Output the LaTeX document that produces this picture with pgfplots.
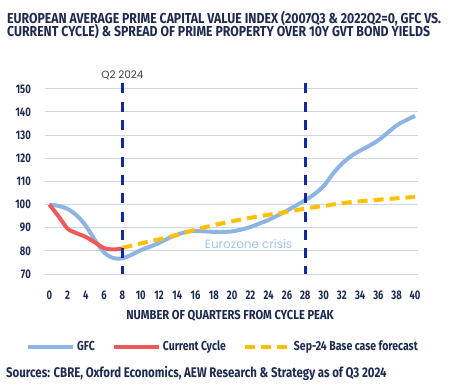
\documentclass[border=0pt]{standalone}
\usepackage{fontspec}
\usepackage{pgfplots}
\pgfplotsset{compat=1.18}
\setmainfont{Fira Sans}
\newfontfamily\condfont[FakeStretch=0.76]{Fira Sans}
\newfontfamily\titlefont[FakeStretch=0.85]{Fira Sans}
\newfontfamily\xlabfont[FakeStretch=0.86]{Fira Sans}
\newfontfamily\srcfont[FakeStretch=0.82]{Fira Sans}
\newfontfamily\legfont[FakeStretch=0.81]{Fira Sans}
\newfontfamily\geofont{Poppins}
\definecolor{navy}{HTML}{1F2A50}
\definecolor{gridc}{HTML}{CED5EE}
\definecolor{gfc}{HTML}{8DB4E2}
\definecolor{cur}{HTML}{EE5A5A}
\definecolor{fc}{HTML}{FFC000}
\definecolor{vl}{HTML}{1428A0}
\definecolor{euro}{HTML}{A3C4EA}
\definecolor{qlab}{HTML}{404040}
\begin{document}
\begin{tikzpicture}
\path[use as bounding box] (0bp,0bp) rectangle (456bp,390bp);
\node[anchor=base west, inner sep=0pt, text=navy] at (7bp,366.7bp) {\titlefont\bfseries\fontsize{14.5}{15}\selectfont EUROPEAN AVERAGE PRIME CAPITAL VALUE INDEX (2007Q3 \& 2022Q2=0, GFC VS.};
\node[anchor=base west, inner sep=0pt, text=navy] at (7bp,353.3bp) {\titlefont\bfseries\fontsize{14.5}{15}\selectfont CURRENT CYCLE) \& SPREAD OF PRIME PROPERTY OVER 10Y GVT BOND YIELDS};
\node[anchor=base, inner sep=0pt, text=navy] at (230bp,70bp) {\xlabfont\bfseries\fontsize{13}{13}\selectfont NUMBER OF QUARTERS FROM CYCLE PEAK};
\node[anchor=base west, inner sep=0pt, text=navy] at (6bp,12.5bp) {\srcfont\bfseries\fontsize{14}{14}\selectfont Sources: CBRE, Oxford Economics, AEW Research \& Strategy as of Q3 2024};
\begin{axis}[
  at={(45bp,116bp)}, anchor=south west,
  scale only axis, width=373bp, height=190.5bp,
  xmin=-0.47, xmax=40.33, ymin=70, ymax=152.3,
  axis line style={draw=none},
  xtick={0,2,...,40}, ytick={70,80,...,150},
  tick style={draw=none},
  ymajorgrids, grid style={color=gridc, line width=1bp},
  clip=false,
  /pgf/number format/assume math mode=true,
  ticklabel style={font=\condfont\bfseries\fontsize{12.5}{12.5}\selectfont, text=navy},
  xticklabel style={anchor=base, inner sep=0pt, yshift=-25bp},
  yticklabel style={anchor=east, inner sep=0pt, xshift=-14bp},
  legend image code/.code={\draw[#1] (0bp,0bp) -- (45bp,0bp);},
  legend style={draw=none, fill=none, at={(-0.059,-0.3816)}, anchor=west,
    legend columns=3, font=\legfont\bfseries\fontsize{13}{13}\selectfont, text=navy,
    /tikz/every even column/.append style={column sep=15bp},
    nodes={inner sep=2bp}},
  legend cell align=left,
]
\addplot[gfc, line width=4bp, smooth] coordinates {
(0,100) (1,99.4) (2,98.1) (3,95.3) (4,90.8) (5,84.6) (6,79.3) (7,76.9) (8,76.8) (9,78.3)
(10,80.3) (11,81.8) (12,83.4) (13,85.4) (14,87.0) (15,88.2) (16,88.6) (17,88.4) (18,88.2) (19,88.2)
(20,88.4) (21,89.2) (22,90.3) (23,91.8) (24,93.4) (25,95.3) (26,97.4) (27,99.6) (28,101.9) (29,104.5)
(30,108.0) (31,113.2) (32,117.6) (33,120.9) (34,123.3) (35,125.4) (36,127.8) (37,131.0) (38,134.2) (39,136.4) (40,138.3)};
\addlegendentry{GFC}
\addplot[cur, line width=4bp, smooth] coordinates {
(0,100) (1,95.0) (2,89.6) (3,87.6) (4,86.0) (5,83.6) (6,81.2) (7,80.6) (8,81.0)};
\addlegendentry{Current Cycle}
\addplot[fc, line width=4bp, dash pattern=on 10bp off 6bp, smooth] coordinates {
(8,81.3) (10,83.2) (12,85.0) (14,86.9) (16,89.2) (18,91.1) (20,92.8) (22,94.3) (24,95.6)
(26,96.8) (28,98.3) (30,99.4) (32,100.6) (34,101.4) (36,102.1) (38,102.7) (40,103.3)};
\addlegendentry{Sep-24 Base case forecast}
\addplot[vl, line width=2.8bp, dash pattern=on 10bp off 8.3bp, forget plot] coordinates {(8,152.3) (8,70)};
\addplot[vl, line width=2.8bp, dash pattern=on 10bp off 8.3bp, forget plot] coordinates {(28,152.3) (28,70)};
\node[anchor=base, inner sep=0pt, text=qlab, font=\geofont\fontsize{10.5}{10.5}\selectfont] at (axis cs:8,154.4) {Q2 2024};
\node[anchor=base west, inner sep=0pt, text=euro, font=\geofont\fontsize{12}{12}\selectfont] at (axis cs:17,81.1) {Eurozone crisis};
\end{axis}
\end{tikzpicture}
\end{document}
